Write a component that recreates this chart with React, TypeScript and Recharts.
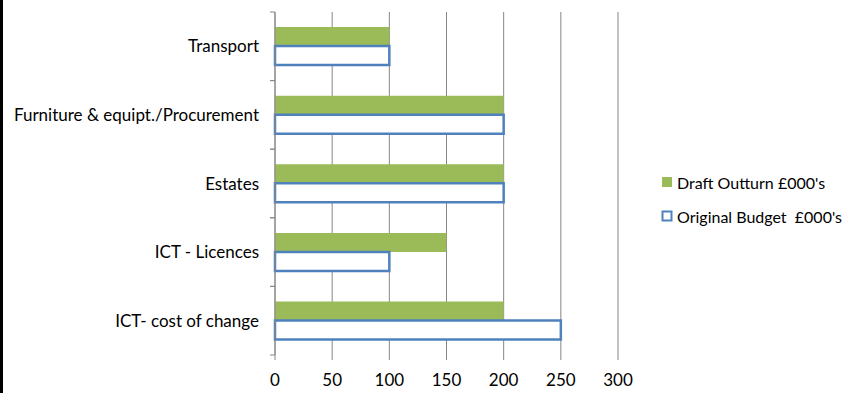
import React from "react"
import { BarChart, Bar, XAxis, YAxis, CartesianGrid } from "recharts"

const categories = [
  "Transport",
  "Furniture & equipt./Procurement",
  "Estates",
  "ICT - Licences",
  "ICT- cost of change",
]
const draftOutturn = [100, 200, 200, 150, 200]
const originalBudget = [100, 200, 200, 100, 250]
const xTicks = [0, 50, 100, 150, 200, 250, 300]

const GREEN = "#9BBB59"
const BLUE = "#4F81BD"
const GRID = "#868686"
const FONT = "Lato, 'Open Sans', sans-serif"
const FS = 17

const data = categories.map((name, i) => ({
  name,
  draft: draftOutturn[i],
  budget: originalBudget[i],
}))

// category label plus the small tick marks at the band edges
function CategoryTick(props: any) {
  const { x, y, payload } = props
  const half = payload && payload.offset ? payload.offset : 34.3
  return (
    <g>
      <text x={x} y={y} dy={6} textAnchor="end" fontSize={FS} fontFamily={FONT} fill="#000">
        {payload.value}
      </text>
      <line x1={x + 11} x2={x + 16} y1={y - half} y2={y - half} stroke={GRID} />
      <line x1={x + 11} x2={x + 16} y1={y + half} y2={y + half} stroke={GRID} />
    </g>
  )
}

function LegendBox() {
  const rows = [
    { label: "Draft Outturn £000's", fill: GREEN, stroke: "none" },
    { label: "Original Budget  £000's", fill: "#fff", stroke: BLUE },
  ]
  return (
    <div style={{ position: "absolute", left: 661, top: 165, fontFamily: FONT, fontSize: 16, color: "#000" }}>
      {rows.map((r) => (
        <div key={r.label} style={{ display: "flex", alignItems: "center", height: 34, whiteSpace: "pre" }}>
          <svg width={15} height={12} style={{ marginRight: 1 }}>
            <rect
              x={r.stroke === "none" ? 1 : 1.5}
              y={r.stroke === "none" ? 1 : 1.5}
              width={r.stroke === "none" ? 10 : 9}
              height={r.stroke === "none" ? 10 : 9}
              fill={r.fill}
              stroke={r.stroke}
              strokeWidth={2}
            />
          </svg>
          {r.label}
        </div>
      ))}
    </div>
  )
}

export default function App() {
  return (
    <div style={{ position: "absolute", left: 0, top: 0, width: 847, height: 393, background: "#fff" }}>
      <div style={{ position: "absolute", left: 0, top: 0, width: 3, height: 393, background: "#000" }} />
      <BarChart
        width={847}
        height={393}
        layout="vertical"
        data={data}
        margin={{ top: 12, right: 229, bottom: 8, left: 5 }}
        barCategoryGap="22%"
        barGap={0}
      >
        <CartesianGrid horizontal={false} vertical={true} stroke={GRID} />
        <XAxis
          type="number"
          domain={[0, 300]}
          ticks={xTicks}
          axisLine={false}
          tickLine={{ stroke: GRID }}
          tickSize={5}
          tickMargin={14}
          height={30}
          tick={{ fontSize: FS, fontFamily: FONT, fill: "#000" }}
        />
        <YAxis
          type="category"
          dataKey="name"
          width={270}
          axisLine={{ stroke: GRID }}
          tickLine={false}
          tickSize={0}
          tickMargin={16}
          tick={<CategoryTick />}
          interval={0}
        />
        <Bar dataKey="draft" name="Draft Outturn £000's" fill={GREEN} isAnimationActive={false} />
        <Bar
          dataKey="budget"
          name="Original Budget  £000's"
          fill="#fff"
          stroke={BLUE}
          strokeWidth={2.5}
          isAnimationActive={false}
        />
      </BarChart>
      <LegendBox />
    </div>
  )
}
